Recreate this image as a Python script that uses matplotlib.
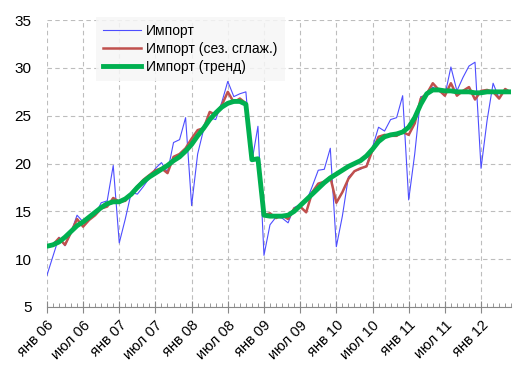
import numpy as np
import matplotlib
matplotlib.use('Agg')
import matplotlib.pyplot as plt
from matplotlib.ticker import MultipleLocator

plt.rcParams['font.family'] = ['Liberation Sans', 'DejaVu Sans']

# monthly data, янв 2006 .. июн 2012
imp_raw = [8.3, 10.3, 12.3, 11.4, 12.8, 14.6, 13.9, 14.4, 14.6, 15.9, 16.1, 19.8,
           11.7, 14.2, 17.0, 16.8, 17.6, 18.5, 19.5, 20.1, 19.1, 22.2, 22.5, 24.8,
           15.6, 21.0, 23.6, 24.8, 24.6, 26.4, 28.6, 27.0, 27.3, 27.5, 20.2, 23.9,
           10.4, 13.6, 14.4, 14.3, 13.8, 15.4, 15.7, 16.0, 17.6, 19.3, 19.4, 21.6,
           11.3, 14.5, 18.6, 19.2, 19.4, 19.8, 21.7, 23.8, 23.4, 24.6, 24.8, 27.1,
           16.2, 21.0, 27.0, 27.1, 28.0, 27.6, 27.1, 30.1, 27.6, 29.0, 30.2, 30.6,
           19.5, 24.5, 28.4, 26.8, 27.7, 27.5]
imp_sa = [11.3, 11.5, 12.2, 11.5, 12.8, 14.2, 13.4, 14.1, 14.6, 15.3, 15.5, 16.4,
          16.0, 16.1, 16.9, 17.6, 18.3, 18.8, 19.3, 19.5, 19.0, 20.7, 21.0, 21.6,
          22.6, 23.5, 23.7, 25.4, 25.1, 26.1, 27.5, 26.4, 26.8, 26.3, 20.4, 20.5,
          14.6, 14.8, 14.3, 14.6, 14.2, 15.3, 15.5, 14.9, 17.0, 17.9, 18.1, 18.6,
          15.9, 17.0, 18.4, 19.2, 19.5, 19.7, 21.4, 22.8, 23.0, 22.9, 22.9, 23.3,
          23.0, 24.2, 26.8, 27.3, 28.4, 27.7, 27.1, 28.4, 27.1, 27.6, 28.0, 26.7,
          27.6, 27.7, 27.5, 26.8, 27.8, 27.4]
imp_trend = [11.35, 11.5, 11.8, 12.3, 12.9, 13.5, 13.9, 14.4, 14.9, 15.4, 15.8, 16.0,
             16.0, 16.3, 16.8, 17.5, 18.1, 18.6, 19.0, 19.4, 19.8, 20.3, 20.7, 21.3,
             22.0, 22.9, 23.7, 24.6, 25.3, 25.9, 26.3, 26.5, 26.5, 26.2, 20.4, 20.5,
             14.6, 14.5, 14.5, 14.5, 14.6, 15.0, 15.6, 16.2, 16.8, 17.4, 18.0, 18.5,
             18.9, 19.3, 19.7, 20.0, 20.3, 20.8, 21.5, 22.3, 22.8, 23.0, 23.1, 23.3,
             23.8, 24.8, 26.2, 27.3, 27.7, 27.7, 27.6, 27.6, 27.5, 27.5, 27.5, 27.4,
             27.4, 27.5, 27.5, 27.5, 27.5, 27.5]
tick_labels = ['янв 06', 'июл 06', 'янв 07', 'июл 07', 'янв 08', 'июл 08', 'янв 09',
               'июл 09', 'янв 10', 'июл 10', 'янв 11', 'июл 11', 'янв 12']

x = np.arange(len(imp_raw))

fig = plt.figure(figsize=(5.27, 3.73), dpi=100)
ax = fig.add_axes([0.089, 0.177, 0.881, 0.769])

ax.plot(x, imp_raw, color='#4d4dff', lw=0.8, label='Импорт')
ax.plot(x, imp_sa, color='#c0504d', lw=1.8, label='Импорт (сез. сглаж.)')
ax.plot(x, imp_trend, color='#00b050', lw=3.5, label='Импорт (тренд)')

ax.set_xlim(0, 77)
ax.set_ylim(5, 35)
ax.set_xticks(np.arange(0, 78, 6))
ax.set_xticklabels(tick_labels, rotation=45, ha='right', rotation_mode='anchor', fontsize=10.5)
ax.xaxis.set_minor_locator(MultipleLocator(1))
ax.yaxis.set_major_locator(MultipleLocator(5))
ax.tick_params(axis='y', length=0, labelsize=11, pad=11)
ax.tick_params(axis='x', which='major', direction='inout', length=8, color='#888888', pad=4)
ax.tick_params(axis='x', which='minor', direction='in', length=3, color='#888888')

for s in ['top', 'right', 'left']:
    ax.spines[s].set_visible(False)
ax.spines['bottom'].set_color('#888888')

ax.grid(True, which='major', linestyle=(0, (4, 3)), color='#bdbdbd', lw=0.8)
ax.set_axisbelow(True)

leg = ax.legend(loc='upper left', bbox_to_anchor=(0.09, 1.035), fontsize=10,
                handlelength=2.8, handletextpad=0.35, labelspacing=0.3,
                borderpad=0.5, facecolor='#f6f6f6', edgecolor='none', framealpha=0.85,
                fancybox=False)

fig.savefig('out.png', dpi=100)
